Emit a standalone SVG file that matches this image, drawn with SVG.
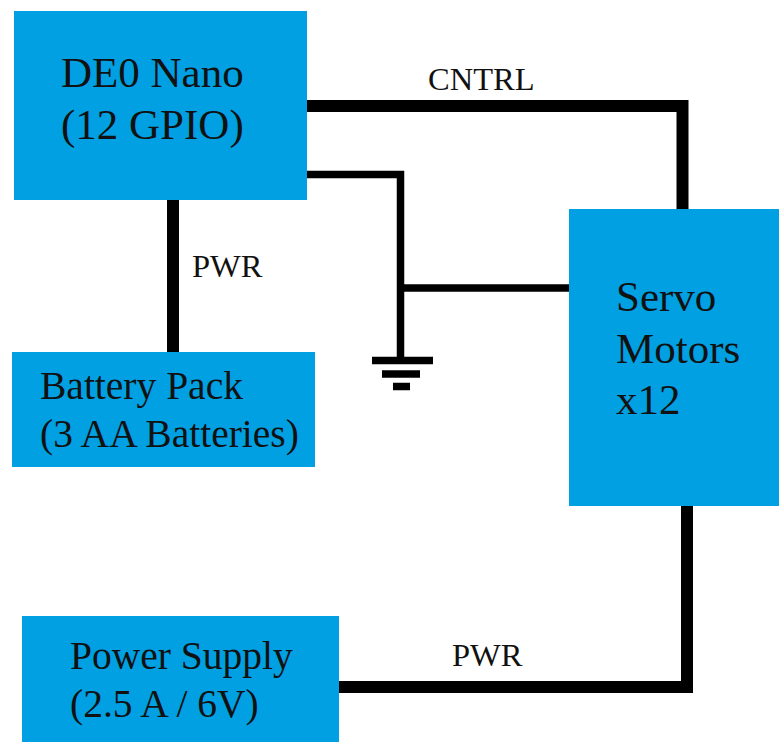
<svg xmlns="http://www.w3.org/2000/svg" width="779" height="742" viewBox="0 0 779 742">
<style>
.n{fill:#00a0e3}
.t{font-family:"Liberation Serif","Times New Roman",serif;fill:#111}
.c{stroke:#000;fill:none}
.b{font-size:43px}
.m{font-size:39.500px}
.l{font-size:32.500px}
</style>
<rect width="779" height="742" fill="#fff"/>
<g id="connectors">
<path class="c" stroke-width="12" d="M306 106H682.500V209"/>
<path class="c" stroke-width="7.500" d="M306 174.500H400.500V357"/>
<path class="c" stroke-width="7.500" d="M401 288H569"/>
<path class="c" stroke-width="12" d="M173 199V352"/>
<path class="c" stroke-width="12" d="M687 505V687H339"/>
<path class="c" stroke-width="7.500" d="M372 360.500H433"/>
<path class="c" stroke-width="7.500" d="M382 374H420"/>
<path class="c" stroke-width="7.500" d="M393 386.500H410"/>
</g>
<g id="de0"><rect class="n" x="14" y="11" width="293" height="189"/><text class="t b" x="61" y="87">DE0 Nano</text><text class="t b" x="61" y="139">(12 GPIO)</text></g>
<g id="battery"><rect class="n" x="12" y="352" width="303" height="115"/><text class="t m" x="40" y="399">Battery Pack</text><text class="t m" x="40" y="447">(3 AA Batteries)</text></g>
<g id="servo"><rect class="n" x="569" y="209" width="210" height="297"/><text class="t b" x="616" y="311">Servo</text><text class="t b" x="616" y="363">Motors</text><text class="t b" x="616" y="414">x12</text></g>
<g id="supply"><rect class="n" x="22" y="616" width="317" height="126"/><text class="t m" x="70" y="669">Power Supply</text><text class="t m" x="70" y="717">(2.5 A / 6V)</text></g>
<g id="labels"><text class="t l" x="428" y="90">CNTRL</text><text class="t l" x="192" y="277">PWR</text><text class="t l" x="452" y="666">PWR</text></g>
</svg>
